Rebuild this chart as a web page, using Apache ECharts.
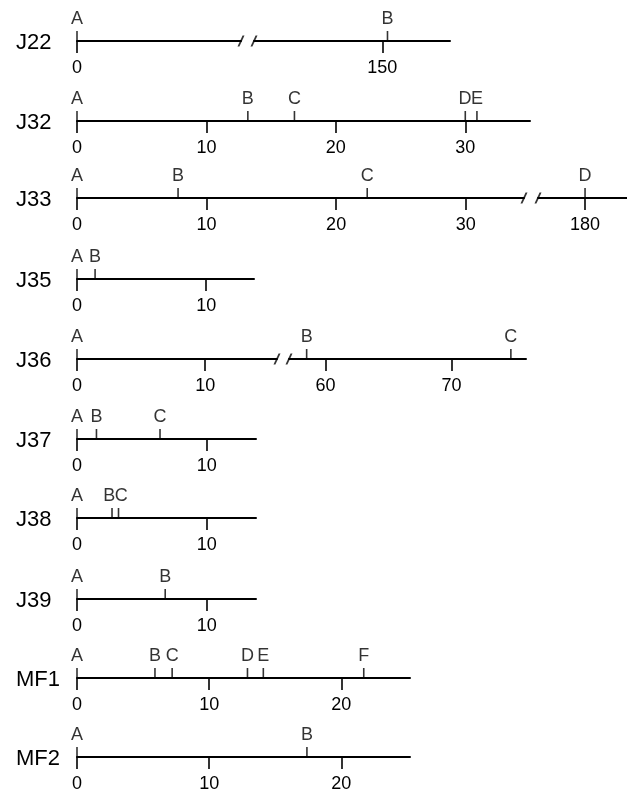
<!DOCTYPE html>
<html>
<head>
<meta charset="utf-8">
<script src="https://cdn.jsdelivr.net/npm/echarts@6/dist/echarts.min.js"></script>
<style>
html,body{margin:0;padding:0;background:#fff;}
#chart{width:627px;height:795px;}
</style>
</head>
<body>
<div id="chart"></div>
<script>
// ---------- DATA ----------
const rowNames = ['J22', 'J32', 'J33', 'J35', 'J36', 'J37', 'J38', 'J39', 'MF1', 'MF2'];
const markerLetters = [
  ['A', 'B'],
  ['A', 'B', 'C', 'D', 'E'],
  ['A', 'B', 'C', 'D'],
  ['A', 'B'],
  ['A', 'B', 'C'],
  ['A', 'B', 'C'],
  ['A', 'B', 'C'],
  ['A', 'B'],
  ['A', 'B', 'C', 'D', 'E', 'F'],
  ['A', 'B']
];
const markerValues = [
  [0, 150.4],
  [0, 13.2, 16.8, 30.0, 30.9],
  [0, 7.8, 22.4, 180],
  [0, 1.4],
  [0, 58.5, 74.7],
  [0, 1.5, 6.4],
  [0, 2.7, 3.2],
  [0, 6.8],
  [0, 5.9, 7.2, 12.9, 14.1, 21.7],
  [0, 17.4]
];
// axis extents of each (possibly broken) axis segment
const axisSegments = [
  [[0, 12.7], [140.15, 155.2]],
  [[0, 35]],
  [[0, 34.5], [175.85, 183.7]],
  [[0, 13.7]],
  [[0, 15.6], [57.1, 75.9]],
  [[0, 13.8]],
  [[0, 13.8]],
  [[0, 13.8]],
  [[0, 25.2]],
  [[0, 25.2]]
];
const tickLabels = [
  [0, 150],
  [0, 10, 20, 30],
  [0, 10, 20, 30, 180],
  [0, 10],
  [0, 10, 60, 70],
  [0, 10],
  [0, 10],
  [0, 10],
  [0, 10, 20],
  [0, 10, 20]
];

// ---------- LAYOUT ----------
const lineY = [41, 121, 198, 279, 359, 439, 518, 599, 678, 757];
const segmentPixels = [
  [[77, 241], [254, 450]],
  [[77, 530]],
  [[77, 524], [538, 640]],
  [[77, 254]],
  [[77, 277], [289, 526]],
  [[77, 256]],
  [[77, 256]],
  [[77, 256]],
  [[77, 410]],
  [[77, 410]]
];
const FONT = '"Liberation Sans", Arial, Helvetica, sans-serif';
const SLASH = 'path://M0,10 L4.2,0 L5.8,0 L1.6,10 Z';

const grids = [], xAxes = [], yAxes = [], series = [], titles = [];
let gi = 0;
rowNames.forEach((name, r) => {
  titles.push({
    text: name, left: 11, top: lineY[r] - 14,
    textStyle: {fontFamily: FONT, fontSize: 22, fontWeight: 'normal', color: '#000'}
  });
  const segs = axisSegments[r];
  segs.forEach((seg, s) => {
    const px = segmentPixels[r][s];
    const k = (px[1] - px[0]) / (seg[1] - seg[0]);
    grids.push({left: px[0], width: px[1] - px[0], top: lineY[r] - 20, height: 20, containLabel: false});
    const ticks = tickLabels[r].filter(v => v >= seg[0] && v <= seg[1]);
    xAxes.push({
      type: 'value', gridIndex: gi, min: seg[0], max: seg[1], position: 'bottom',
      axisLine: {show: true, onZero: false, lineStyle: {color: '#000', width: 2}},
      axisTick: {show: true, customValues: ticks, length: 12, lineStyle: {color: '#000', width: 1.6}},
      axisLabel: {show: true, customValues: ticks, margin: 18, fontSize: 18, fontFamily: FONT, color: '#000',
                  showMinLabel: true, showMaxLabel: true},
      splitLine: {show: false}
    });
    yAxes.push({type: 'value', gridIndex: gi, min: 0, max: 1, show: false});

    // markers within this segment
    const vals = markerValues[r], lets = markerLetters[r];
    const data = [];
    vals.forEach((v, i) => {
      if (v < seg[0] || v > seg[1]) return;
      let dx = 0;
      const prev = i > 0 ? (v - vals[i - 1]) * k : 99;
      const next = i < vals.length - 1 ? (vals[i + 1] - v) * k : 99;
      if (prev < 12) dx += (12 - prev) / 2;
      if (next < 12) dx -= (12 - next) / 2;
      data.push({value: [v, 0], name: lets[i], label: {offset: [dx, 0]}});
    });
    series.push({
      type: 'scatter', xAxisIndex: gi, yAxisIndex: gi, clip: false, silent: true,
      symbol: 'rect', symbolSize: [1.6, 10], symbolOffset: [0, -5],
      itemStyle: {color: '#000'},
      label: {show: true, position: 'top', distance: 3, formatter: p => p.name,
              fontSize: 18, fontFamily: FONT, color: '#000'},
      data: data, z: 5
    });
    // axis-break slashes
    if (segs.length > 1) {
      const bv = s === 0 ? seg[1] : seg[0];
      series.push({
        type: 'scatter', xAxisIndex: gi, yAxisIndex: gi, clip: false, silent: true,
        symbol: SLASH, symbolSize: [7, 11], itemStyle: {color: '#000'},
        data: [[bv, 0]], z: 6
      });
    }
    gi++;
  });
});

const chart = echarts.init(document.getElementById('chart'), null, {renderer: 'canvas'});
chart.setOption({
  animation: false,
  backgroundColor: '#fff',
  title: titles,
  grid: grids,
  xAxis: xAxes,
  yAxis: yAxes,
  series: series
});
</script>
</body>
</html>
